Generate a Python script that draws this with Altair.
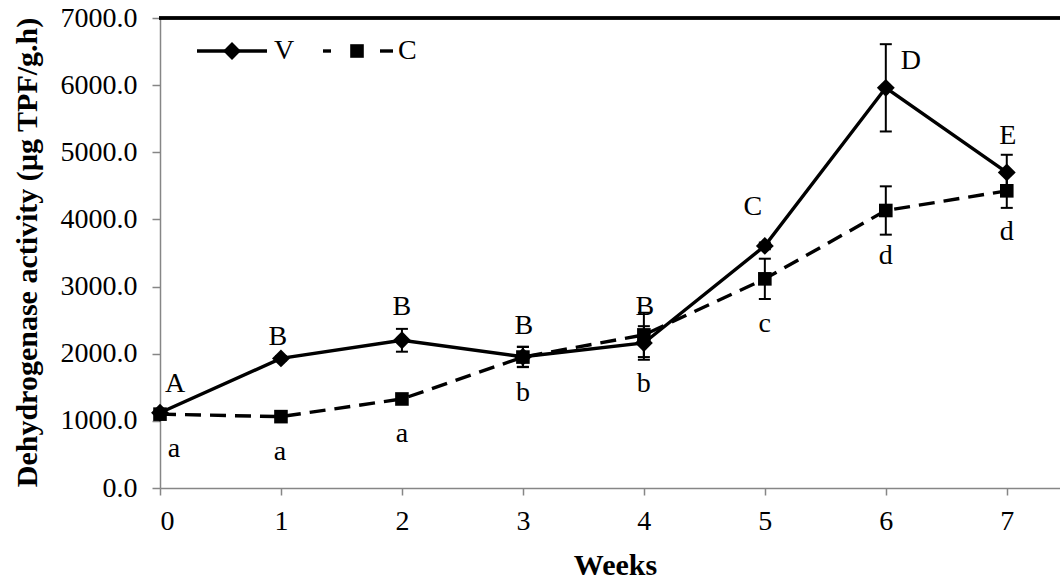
import altair as alt
import pandas as pd

# ---------------- data ----------------
weeks = [0, 1, 2, 3, 4, 5, 6, 7]
v_mean = [1120, 1930, 2200, 1955, 2160, 3606, 5960, 4700]
v_err = [30, 30, 170, 150, 250, 50, 650, 263]
c_mean = [1100, 1063, 1326, 1950, 2280, 3115, 4133, 4426]
c_err = [30, 30, 40, 150, 330, 300, 360, 254]
v_letters = ["A", "B", "B", "B", "B", "C", "D", "E"]
c_letters = ["a", "a", "a", "b", "b", "c", "d", "d"]
y_ticks = [0, 1000, 2000, 3000, 4000, 5000, 6000, 7000]
x_ticks = weeks
series_names = ["V", "C"]

# ---------------- style ----------------
FONT = "Liberation Serif"
AX_GRAY = "#868686"
# pixel offsets of the significance letters (dx, dy)
v_label_off = [(15, -27), (-3, -19), (0, -22), (1, -21), (1, -19), (-12, -36), (25, 17), (1, -19)]
c_label_off = [(14, 33), (-1, 33), (0, 32), (0, 26), (0, 27), (0, 25), (0, 21), (0, 24)]

df = pd.DataFrame({
    "week": weeks,
    "V": v_mean,
    "V_lo": [m - e for m, e in zip(v_mean, v_err)],
    "V_hi": [m + e for m, e in zip(v_mean, v_err)],
    "C": c_mean,
    "C_lo": [m - e for m, e in zip(c_mean, c_err)],
    "C_hi": [m + e for m, e in zip(c_mean, c_err)],
    "V_lab": v_letters,
    "C_lab": c_letters,
})

xscale = alt.Scale(domain=[0, 7.44], nice=False, zero=False)
yscale = alt.Scale(domain=[0, 7000], nice=False)

x_axis = alt.Axis(
    values=x_ticks, format="d", title="Weeks",
    labelFont=FONT, labelFontSize=28, labelColor="black", labelPadding=12,
    tickSize=7, tickColor=AX_GRAY, tickWidth=1.5,
    domainColor=AX_GRAY, domainWidth=1.5, grid=False,
    titleFont=FONT, titleFontSize=30, titleFontWeight="bold", titleColor="black",
    titleX=455, titleY=77, titleBaseline="middle", titleAlign="center",
)
y_axis = alt.Axis(
    values=y_ticks, format=".1f", title="Dehydrogenase activity (µg TPF/g.h)",
    labelFont=FONT, labelFontSize=28, labelColor="black", labelPadding=15,
    tickSize=8, tickColor=AX_GRAY, tickWidth=1.5,
    domainColor=AX_GRAY, domainWidth=1.5, grid=False,
    titleFont=FONT, titleFontSize=30, titleFontWeight="bold", titleColor="black",
    titleX=-133, titleY=234, titleBaseline="middle", titleAlign="center", titleAngle=-90,
)


def X():
    return alt.X("week:Q", scale=xscale, axis=x_axis, title="Weeks")


def Y(field):
    return alt.Y(f"{field}:Q", scale=yscale, axis=y_axis,
                 title="Dehydrogenase activity (µg TPF/g.h)")


base = alt.Chart(df)
layers = []

# top border
layers.append(base.mark_rule(color="black", strokeWidth=2.5).encode(
    y=alt.datum(7000, scale=yscale, axis=y_axis), x=alt.value(-1), x2=alt.value(900)))

# error bars
for s in series_names:
    layers.append(base.mark_rule(color="black", strokeWidth=2).encode(
        x=X(), y=Y(f"{s}_lo"), y2=f"{s}_hi:Q"))
    for end in ("lo", "hi"):
        layers.append(base.mark_tick(color="black", orient="horizontal", size=12,
                                     thickness=2, opacity=1).encode(
            x=X(), y=Y(f"{s}_{end}")))

# V line + diamonds
layers.append(base.mark_line(color="black", strokeWidth=3.4).encode(x=X(), y=Y("V")))
layers.append(base.mark_point(shape="diamond", filled=True, size=320, color="black",
                              opacity=1).encode(x=X(), y=Y("V")))

# C line + squares
layers.append(base.mark_line(color="black", strokeWidth=3.4, strokeDash=[16, 9]).encode(
    x=X(), y=Y("C")))
layers.append(base.mark_point(shape="square", filled=True, size=185, color="black",
                              opacity=1).encode(x=X(), y=Y("C")))

# significance letters
for i, wk in enumerate(weeks):
    dx, dy = v_label_off[i]
    layers.append(base.transform_filter(alt.datum.week == wk).mark_text(
        font=FONT, fontSize=28, color="black", dx=dx, dy=dy, baseline="middle").encode(
        x=X(), y=Y("V_hi"), text="V_lab:N"))
    dx, dy = c_label_off[i]
    layers.append(base.transform_filter(alt.datum.week == wk).mark_text(
        font=FONT, fontSize=28, color="black", dx=dx, dy=dy, baseline="middle").encode(
        x=X(), y=Y("C_lo"), text="C_lab:N"))

# legend (inside plot, upper left)
leg = alt.Chart(pd.DataFrame({"name": series_names}))
layers.append(leg.transform_filter(alt.datum.name == "V").mark_rule(
    color="black", strokeWidth=3.4).encode(x=alt.value(37), x2=alt.value(107), y=alt.value(33)))
layers.append(leg.transform_filter(alt.datum.name == "V").mark_point(
    shape="diamond", filled=True, size=320, color="black", opacity=1).encode(
    x=alt.value(72), y=alt.value(33)))
layers.append(leg.transform_filter(alt.datum.name == "V").mark_text(
    font=FONT, fontSize=28, color="black", align="left", baseline="middle").encode(
    x=alt.value(114), y=alt.value(33), text="name:N"))
layers.append(leg.transform_filter(alt.datum.name == "C").mark_rule(
    color="black", strokeWidth=3.4).encode(x=alt.value(163), x2=alt.value(171), y=alt.value(33)))
layers.append(leg.transform_filter(alt.datum.name == "C").mark_rule(
    color="black", strokeWidth=3.4).encode(x=alt.value(220), x2=alt.value(233), y=alt.value(33)))
layers.append(leg.transform_filter(alt.datum.name == "C").mark_point(
    shape="square", filled=True, size=185, color="black", opacity=1).encode(
    x=alt.value(197), y=alt.value(33)))
layers.append(leg.transform_filter(alt.datum.name == "C").mark_text(
    font=FONT, fontSize=28, color="black", align="left", baseline="middle").encode(
    x=alt.value(238), y=alt.value(33), text="name:N"))

chart = alt.layer(*layers).properties(
    width=900, height=470,
    autosize=alt.AutoSizeParams(type="none"),
    padding={"left": 160, "top": 18, "right": 0, "bottom": 95},
    background="white",
).configure_view(stroke=None)

chart.save("out.html", embed_options={"renderer": "svg", "actions": False})
